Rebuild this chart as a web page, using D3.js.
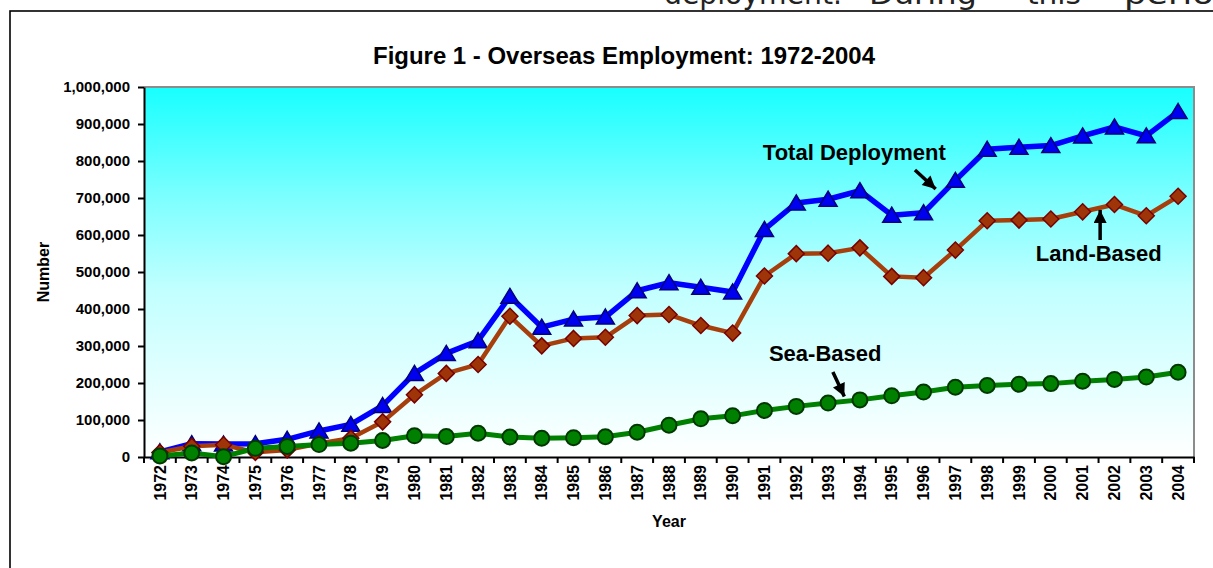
<!DOCTYPE html>
<html>
<head>
<meta charset="utf-8">
<script src="https://cdn.jsdelivr.net/npm/d3@7"></script>
<style>
  body { margin: 0; background: #fff; }
  svg { display: block; font-family: "Liberation Sans", Arial, sans-serif; }
</style>
</head>
<body>
<svg id="chart" width="1213" height="568"></svg>
<script>
// Overseas Employment 1972-2004 — line chart with three series

const years = [1972, 1973, 1974, 1975, 1976, 1977, 1978, 1979, 1980, 1981, 1982,
  1983, 1984, 1985, 1986, 1987, 1988, 1989, 1990, 1991, 1992, 1993, 1994, 1995,
  1996, 1997, 1998, 1999, 2000, 2001, 2002, 2003, 2004];

const totalDeployment = [14000, 36000, 35000, 36035, 47835, 70375, 88241, 139000,
  226000, 280000, 314284, 434207, 350982, 372784, 378214, 449271, 471030, 458626,
  446095, 615019, 686461, 696630, 719602, 653574, 660122, 747696, 831643, 837020,
  841628, 867599, 891908, 867969, 933588];

const landBased = [12000, 29000, 33000, 12501, 19221, 36676, 50961, 95000,
  168000, 226000, 250115, 380263, 300378, 320494, 323517, 382229, 385117, 355346,
  334883, 489260, 549655, 550872, 565226, 488173, 484653, 559227, 638343, 640331,
  643304, 662648, 682315, 651938, 704586];

const seaBased = [3000, 11000, 1000, 23534, 28614, 33699, 37280, 44818,
  57196, 55307, 64169, 53944, 50604, 52290, 54697, 67042, 85913, 103280,
  111212, 125759, 136806, 145758, 154376, 165401, 175469, 188469, 193300, 196689,
  198324, 204951, 209593, 216031, 229002];

const yTicks = [0, 100000, 200000, 300000, 400000, 500000, 600000, 700000,
  800000, 900000, 1000000];

// callouts, placed in (year, value) units
const callouts = [
  { text: "Total Deployment", tx: 1990.95, ty: 802700, from: [1995.73, 775700], to: [1996.52, 713500] },
  { text: "Land-Based", tx: 1999.53, ty: 529700, from: [2001.55, 586500], to: [2001.55, 683800] },
  { text: "Sea-Based", tx: 1991.14, ty: 259500, from: [1993.15, 229700], to: [1993.59, 148600] }
];

const svg = d3.select("#chart");
const plot = { left: 144, right: 1194, top: 87, bottom: 457 };

const x = d3.scaleBand().domain(years).range([plot.left, plot.right]);
const xYear = d3.scaleLinear().domain([1971.5, 2004.5]).range([plot.left, plot.right]);
const y = d3.scaleLinear().domain([0, 1000000]).range([plot.bottom, plot.top]);
const cx = d => x(d) + x.bandwidth() / 2;

// page text peeking above the frame
const pageWords = [
  { w: "deployment.", x0: 664, len: 178 },
  { w: "During", x0: 869, len: 108 },
  { w: "this", x0: 1027, len: 54 },
  { w: "period", x0: 1124, len: 112 }
];
svg.selectAll("text.page")
  .data(pageWords)
  .enter().append("text")
  .attr("class", "page")
  .attr("x", d => d.x0)
  .attr("y", 4)
  .attr("textLength", d => d.len)
  .attr("lengthAdjust", "spacingAndGlyphs")
  .style("font-family", "'DejaVu Sans', sans-serif")
  .style("font-size", "28px")
  .style("fill", "#222")
  .text(d => d.w);

// frame
svg.append("rect")
  .attr("x", 10).attr("y", 11)
  .attr("width", 1400).attr("height", 700)
  .attr("fill", "none").attr("stroke", "#000").attr("stroke-width", 1.6);

const defs = svg.append("defs");
const grad = defs.append("linearGradient")
  .attr("id", "bg").attr("x1", 0).attr("y1", 0).attr("x2", 0).attr("y2", 1);
grad.append("stop").attr("offset", "0%").attr("stop-color", "#17FFFF");
grad.append("stop").attr("offset", "30%").attr("stop-color", "#7DFFFF");
grad.append("stop").attr("offset", "55%").attr("stop-color", "#C2FFFF");
grad.append("stop").attr("offset", "100%").attr("stop-color", "#FFFFFF");

defs.append("marker")
  .attr("id", "arrow")
  .attr("viewBox", "0 0 10 10")
  .attr("refX", 10).attr("refY", 5)
  .attr("markerUnits", "userSpaceOnUse")
  .attr("markerWidth", 14).attr("markerHeight", 13)
  .attr("orient", "auto")
  .append("path").attr("d", "M0,0 L10,5 L0,10 z").attr("fill", "#000");

// plot area
svg.append("rect")
  .attr("x", plot.left).attr("y", plot.top)
  .attr("width", plot.right - plot.left).attr("height", plot.bottom - plot.top)
  .attr("fill", "url(#bg)");
svg.append("path")
  .attr("d", `M${plot.left},${plot.top}H${plot.right}V${plot.bottom}`)
  .attr("fill", "none").attr("stroke", "#8c8c8c").attr("stroke-width", 2);

// title
svg.append("text")
  .attr("x", (plot.left + plot.right) / 2 - 45)
  .attr("y", 64)
  .attr("text-anchor", "middle")
  .attr("textLength", 502)
  .attr("lengthAdjust", "spacingAndGlyphs")
  .style("font-weight", "bold").style("font-size", "23px")
  .text("Figure 1 - Overseas Employment: 1972-2004");

// y axis
const yAxis = svg.append("g")
  .attr("transform", `translate(${plot.left},0)`)
  .call(d3.axisLeft(y).tickValues(yTicks).tickFormat(d3.format(",")).tickSize(6).tickSizeOuter(0).tickPadding(8));
yAxis.select(".domain").attr("stroke", "#000").attr("stroke-width", 2);
yAxis.selectAll(".tick line").attr("stroke", "#000").attr("stroke-width", 2);
yAxis.selectAll("text")
  .style("font-family", "'Liberation Sans', Arial, sans-serif")
  .style("font-weight", "bold").style("font-size", "15px").attr("fill", "#000");

// x axis
const xAxis = svg.append("g")
  .attr("transform", `translate(0,${plot.bottom})`)
  .call(d3.axisBottom(x).tickSize(0).tickSizeOuter(0));
xAxis.select(".domain").attr("stroke", "#000").attr("stroke-width", 2);
xAxis.selectAll("text")
  .attr("transform", "rotate(-90)")
  .attr("text-anchor", "end")
  .attr("x", -8).attr("y", 0).attr("dy", "0.35em")
  .style("font-family", "'Liberation Sans', Arial, sans-serif")
  .style("font-weight", "bold").style("font-size", "16px").attr("fill", "#000");

const bounds = years.map(d => x(d)).concat([x.range()[1]]);
svg.append("g").selectAll("line")
  .data(bounds)
  .enter().append("line")
  .attr("x1", d => d).attr("x2", d => d)
  .attr("y1", plot.bottom).attr("y2", plot.bottom + 6)
  .attr("stroke", "#000").attr("stroke-width", 2);

// axis titles
svg.append("text")
  .attr("transform", `translate(49,${(plot.top + plot.bottom) / 2}) rotate(-90)`)
  .attr("text-anchor", "middle")
  .style("font-weight", "bold").style("font-size", "16px")
  .text("Number");
svg.append("text")
  .attr("x", (plot.left + plot.right) / 2)
  .attr("y", 527)
  .attr("text-anchor", "middle")
  .style("font-weight", "bold").style("font-size", "16px")
  .text("Year");

// series
const triangle = "M0,-8L9,7L-9,7Z";
const diamond = "M0,-8L8,0L0,8L-8,0Z";
const series = [
  { values: totalDeployment, line: "#0000FF", lw: 5.5, fill: "#0000F0", stroke: "#00007A", shape: triangle },
  { values: landBased, line: "#A63F0C", lw: 4.5, fill: "#9E3508", stroke: "#7A0000", shape: diamond },
  { values: seaBased, line: "#008000", lw: 5, fill: "#008000", stroke: "#003800", shape: null }
];

const line = d3.line().x(d => cx(d.year)).y(d => y(d.v));

series.forEach(s => {
  const pts = years.map((yr, i) => ({ year: yr, v: s.values[i] }));
  const g = svg.append("g");
  g.append("path")
    .datum(pts)
    .attr("d", line)
    .attr("fill", "none")
    .attr("stroke", s.line)
    .attr("stroke-width", s.lw)
    .attr("stroke-linejoin", "round");
  if (s.shape) {
    g.selectAll("path.mk")
      .data(pts)
      .enter().append("path")
      .attr("class", "mk")
      .attr("d", s.shape)
      .attr("transform", d => `translate(${cx(d.year)},${y(d.v)})`)
      .attr("fill", s.fill).attr("stroke", s.stroke).attr("stroke-width", 1.5);
  } else {
    g.selectAll("circle")
      .data(pts)
      .enter().append("circle")
      .attr("cx", d => cx(d.year)).attr("cy", d => y(d.v))
      .attr("r", 7.5)
      .attr("fill", s.fill).attr("stroke", s.stroke).attr("stroke-width", 2);
  }
});

// callouts
callouts.forEach(c => {
  svg.append("text")
    .attr("x", xYear(c.tx)).attr("y", y(c.ty))
    .style("font-weight", "bold").style("font-size", "22px")
    .text(c.text);
  const x1 = xYear(c.from[0]), y1 = y(c.from[1]);
  const x2 = xYear(c.to[0]), y2 = y(c.to[1]);
  const len = Math.hypot(x2 - x1, y2 - y1);
  const k = (len - 6) / len;
  svg.append("line")
    .attr("x1", x1).attr("y1", y1)
    .attr("x2", x1 + (x2 - x1) * k).attr("y2", y1 + (y2 - y1) * k)
    .attr("stroke", "#000").attr("stroke-width", 3.5)
    .attr("marker-end", "url(#arrow)");
});
</script>
</body>
</html>
